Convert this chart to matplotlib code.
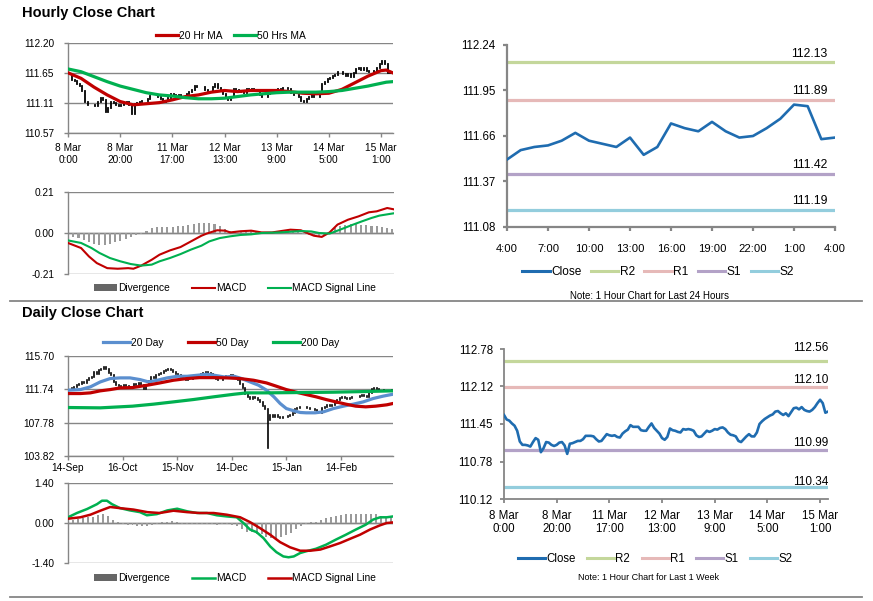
import numpy as np
import matplotlib
matplotlib.use("Agg")
import matplotlib.pyplot as plt
from matplotlib.lines import Line2D
from matplotlib.patches import Patch

# ---------------- data ----------------
# hourly closes, last 1 week (8 Mar 0:00 -> 15 Mar ~4:00)
hourly_close = [
    111.61, 111.53, 111.51, 111.46, 111.42, 111.33, 111.14, 111.08, 111.08, 111.07,
    111.05, 111.13, 111.20, 111.17, 110.95, 111.02, 111.13, 111.12, 111.08, 111.06,
    111.08, 111.12, 111.13, 111.07, 110.92, 111.10, 111.11, 111.13, 111.15, 111.15,
    111.18, 111.24, 111.24, 111.24, 111.23, 111.18, 111.14, 111.15, 111.21, 111.27,
    111.25, 111.24, 111.25, 111.22, 111.21, 111.28, 111.32, 111.35, 111.43, 111.40,
    111.40, 111.40, 111.34, 111.33, 111.33, 111.40, 111.46, 111.38, 111.33, 111.28,
    111.20, 111.17, 111.22, 111.37, 111.34, 111.33, 111.31, 111.30, 111.36, 111.35,
    111.36, 111.35, 111.33, 111.25, 111.22, 111.23, 111.28, 111.33, 111.31, 111.33,
    111.36, 111.35, 111.38, 111.39, 111.36, 111.30, 111.26, 111.25, 111.23, 111.15,
    111.13, 111.18, 111.23, 111.27, 111.23, 111.23, 111.30, 111.45, 111.50, 111.54,
    111.57, 111.60, 111.62, 111.67, 111.68, 111.64, 111.61, 111.64, 111.59, 111.66,
    111.73, 111.74, 111.71, 111.75, 111.70, 111.68, 111.67, 111.70, 111.75, 111.82,
    111.88, 111.82, 111.65, 111.67]
hourly_tick_idx = [0, 20, 40, 60, 80, 100, 120]
hourly_tick_labels = ["8 Mar\n0:00", "8 Mar\n20:00", "11 Mar\n17:00", "12 Mar\n13:00",
                      "13 Mar\n9:00", "14 Mar\n5:00", "15 Mar\n1:00"]

# hourly moving averages
ma_x = [0, 5, 10, 15, 20, 25, 30, 35, 40, 45, 50, 55, 60, 65, 70, 75, 80, 85, 90, 95,
        100, 105, 110, 115, 120, 122, 124.5]
ma20 = [111.66, 111.56, 111.40, 111.26, 111.14, 111.08, 111.10, 111.12, 111.17, 111.23,
        111.26, 111.31, 111.34, 111.32, 111.34, 111.34, 111.34, 111.32, 111.29, 111.28,
        111.29, 111.36, 111.48, 111.60, 111.70, 111.71, 111.66]
ma50 = [111.73, 111.68, 111.59, 111.50, 111.42, 111.36, 111.30, 111.26, 111.24, 111.21,
        111.19, 111.19, 111.20, 111.23, 111.26, 111.28, 111.30, 111.31, 111.31, 111.31,
        111.32, 111.34, 111.38, 111.42, 111.47, 111.49, 111.50]
hourly_price_ticks = [110.57, 111.11, 111.65, 112.20]

# hourly MACD
hmacd_x = [0, 5, 8, 11, 15, 19, 23, 25, 28, 32, 35, 39, 43, 47, 51, 53, 57, 60, 62, 66,
           70, 74, 78, 81, 85, 89, 92, 94, 97, 100, 103, 107, 111, 115, 118, 122, 125]
hmacd = [-0.051, -0.077, -0.120, -0.154, -0.180, -0.183, -0.180, -0.183, -0.167, -0.137,
         -0.111, -0.089, -0.072, -0.043, -0.014, -0.003, 0.014, 0.012, 0.003, 0.009,
         0.012, 0.003, 0.003, 0.009, 0.017, 0.014, -0.003, -0.014, -0.020, 0.003,
         0.043, 0.068, 0.085, 0.106, 0.111, 0.128, 0.120]
hsig_x = [0, 5, 9, 12, 16, 20, 24, 28, 32, 35, 39, 43, 47, 51, 54, 58, 62, 66, 70, 74,
          81, 89, 93, 96, 100, 104, 108, 112, 116, 119, 125]
hsig = [-0.038, -0.051, -0.077, -0.102, -0.128, -0.145, -0.159, -0.167, -0.162, -0.145,
        -0.128, -0.108, -0.085, -0.065, -0.043, -0.026, -0.017, -0.010, -0.007, 0.000,
        0.003, 0.010, 0.008, 0.000, -0.003, 0.017, 0.038, 0.058, 0.077, 0.089, 0.102]
hdiv_x = list(range(0, 125, 2))
hdiv = [-0.012, -0.018, -0.025, -0.035, -0.045, -0.055, -0.062, -0.060, -0.055, -0.048,
        -0.040, -0.030, -0.022, -0.012, -0.005, 0.010, 0.025, 0.030, 0.030, 0.030,
        0.033, 0.035, 0.038, 0.040, 0.045, 0.050, 0.052, 0.050, 0.045, 0.035,
        0.022, 0.012, 0.010, 0.010, 0.010, 0.008, 0.005, 0.004, 0.003, 0.003,
        0.004, 0.006, 0.007, 0.006, 0.004, -0.003, -0.008, -0.012, -0.015, -0.010,
        0.005, 0.025, 0.035, 0.042, 0.045, 0.045, 0.043, 0.040, 0.038, 0.036,
        0.030, 0.025, 0.020]
hmacd_ticks = [-0.21, 0.00, 0.21]

# last 24 hours
h24_close = [111.51, 111.57, 111.59, 111.60, 111.63, 111.68, 111.63, 111.61, 111.59, 111.65,
             111.54, 111.59, 111.74, 111.71, 111.69, 111.75, 111.69, 111.65, 111.66, 111.71,
             111.77, 111.86, 111.85, 111.64, 111.65]
h24_tick_idx = [0, 3, 6, 9, 12, 15, 18, 21, 24]
h24_tick_labels = ["4:00", "7:00", "10:00", "13:00", "16:00", "19:00", "22:00", "1:00", "4:00"]
h24_ticks = [111.08, 111.37, 111.66, 111.95, 112.24]
h24_levels = [112.13, 111.89, 111.42, 111.19]        # R2, R1, S1, S2

# daily closes
daily_close = [
    111.95, 111.80, 112.05, 112.23, 112.40, 112.62, 112.50, 112.90, 113.05, 113.21,
    113.81, 113.60, 114.00, 114.20, 114.45, 114.10, 113.70, 113.41, 112.62, 112.23,
    112.10, 111.95, 112.20, 112.11, 111.90, 112.03, 112.42, 112.30, 112.50, 112.23,
    111.83, 112.23, 112.70, 113.21, 113.10, 113.41, 113.55, 113.69, 113.90, 114.00,
    114.15, 114.00, 113.85, 113.60, 113.40, 113.21, 113.00, 112.82, 112.95, 113.02,
    113.15, 113.29, 113.45, 113.60, 113.70, 113.81, 113.70, 113.60, 113.30, 113.02,
    112.90, 112.82, 113.05, 113.29, 113.35, 113.41, 113.30, 113.13, 112.90, 112.40,
    111.95, 111.16, 110.80, 110.65, 110.85, 110.70, 110.45, 110.25, 109.80, 109.46,
    108.08, 108.68, 108.48, 108.68, 108.40, 108.28, 108.40, 108.48, 108.60, 108.68,
    108.95, 109.46, 109.55, 109.66, 109.60, 109.66, 109.55, 109.46, 109.35, 109.27,
    108.90, 108.87, 109.58, 109.70, 109.86, 109.80, 109.86, 110.15, 110.45, 110.70,
    110.85, 110.75, 110.65, 110.70, 110.77, 110.80, 110.85, 110.95, 111.04, 110.95,
    110.85, 111.30, 111.83, 111.90, 111.83, 111.70, 111.64, 111.55, 111.56, 111.60,
    111.64]
flash_low_idx = 80
flash_low = 104.73
daily_tick_idx = [0, 22, 44, 66, 88, 110]
daily_tick_labels = ["14-Sep", "16-Oct", "15-Nov", "14-Dec", "15-Jan", "14-Feb"]
daily_price_ticks = [103.82, 107.78, 111.74, 115.70]

d20_x = [0, 5, 9, 13, 17, 21, 25, 29, 32.5, 36, 40, 44, 48, 52, 56, 59, 63, 67, 70, 73.4,
         76.8, 80, 83, 85.5, 88, 91, 93.6, 96, 99.6, 103, 107, 111, 115, 119, 123, 127, 131]
d20 = [111.64, 111.71, 112.03, 112.62, 113.02, 113.10, 113.10, 112.90, 112.62, 112.82,
       113.10, 113.29, 113.29, 113.41, 113.53, 113.41, 113.21, 113.29, 113.02, 112.62,
       112.23, 111.64, 110.85, 110.06, 109.46, 109.19, 108.99, 108.95, 108.95, 109.07,
       109.46, 109.74, 109.98, 110.25, 110.65, 110.93, 111.16]
d50_x = [0, 5, 9, 13, 17, 21, 26, 32, 37, 42.5, 48, 53, 58.7, 64, 69.4, 74.8, 80, 84, 88, 92,
         96, 100, 104, 108, 112, 116, 120, 124, 128.5, 131]
d50 = [111.24, 111.24, 111.32, 111.56, 111.71, 111.91, 111.95, 112.23, 112.50, 112.82,
       113.02, 113.13, 113.13, 113.10, 113.02, 112.82, 112.50, 112.11, 111.71, 111.40,
       111.12, 110.85, 110.53, 110.25, 109.98, 109.74, 109.66, 109.74, 109.90, 110.06]
d200_x = [0, 13, 26, 34.5, 42.5, 50.6, 58.7, 67, 72, 80, 93.6, 107, 120, 131]
d200 = [109.58, 109.54, 109.74, 109.98, 110.25, 110.53, 110.85, 111.16, 111.32, 111.32,
        111.36, 111.40, 111.48, 111.56]

# daily MACD
dmacd_x = [0, 3.6, 7.7, 11.7, 13.7, 15.7, 17.7, 21, 25, 29, 31.8, 35.8, 40, 44, 48, 52, 56,
           60, 64, 68, 70.7, 73.4, 76, 78.8, 81.5, 84, 86.8, 88.9, 91, 93.6, 96, 100, 104,
           108, 112, 116, 120, 123, 125.8, 128.5, 131]
dmacd = [0.20, 0.35, 0.49, 0.66, 0.78, 0.78, 0.66, 0.52, 0.44, 0.38, 0.27, 0.31, 0.44, 0.50,
         0.41, 0.35, 0.35, 0.27, 0.23, 0.20, 0.00, -0.23, -0.32, -0.53, -0.82, -1.02, -1.17,
         -1.20, -1.17, -1.05, -0.99, -0.90, -0.76, -0.58, -0.41, -0.23, -0.06, 0.12, 0.20,
         0.20, 0.23]
dsig_x = [0, 5, 9, 13, 17, 21, 26.4, 32, 37, 42.5, 48, 53, 58.7, 64, 69.4, 73.4, 77.4, 81.5,
          85.5, 89.5, 93.6, 97.6, 101.7, 105.6, 109.7, 113.8, 117.7, 121.7, 125.8, 128.5, 131]
dsig = [0.15, 0.20, 0.29, 0.43, 0.56, 0.52, 0.47, 0.38, 0.35, 0.43, 0.38, 0.35, 0.35, 0.29,
        0.20, 0.03, -0.18, -0.41, -0.67, -0.85, -0.97, -0.97, -0.93, -0.82, -0.70, -0.55,
        -0.41, -0.23, -0.08, 0.00, 0.02]
ddiv_x = list(range(0, 131, 2))
ddiv = [0.05, 0.10, 0.15, 0.18, 0.20, 0.22, 0.28, 0.32, 0.25, 0.10,
        0.02, -0.05, -0.08, -0.08, -0.10, -0.12, -0.10, -0.06, -0.02, 0.03,
        0.05, 0.06, 0.03, -0.02, -0.04, -0.03, -0.02, -0.02, -0.03, -0.05,
        -0.06, -0.05, -0.05, -0.08, -0.12, -0.22, -0.30, -0.32, -0.38, -0.40,
        -0.48, -0.52, -0.55, -0.50, -0.42, -0.35, -0.22, -0.12, -0.05, 0.02,
        0.05, 0.12, 0.18, 0.22, 0.25, 0.28, 0.30, 0.30, 0.30, 0.30,
        0.30, 0.32, 0.30, 0.25, 0.22, 0.20]
dmacd_ticks = [-1.40, 0.00, 1.40]

# week levels
wk_ticks = [110.12, 110.78, 111.45, 112.12, 112.78]
wk_levels = [112.56, 112.10, 110.99, 110.34]          # R2, R1, S1, S2
level_names = ["R2", "R1", "S1", "S2"]

# ---------------- style ----------------
plt.rcParams['font.family'] = ['Liberation Sans', 'DejaVu Sans']

GREY = '#868686'
RED = '#C00000'
GREEN = '#00B050'
BLUE = '#1F6CB0'
BLUE20 = '#5B8FCF'
LEVEL_COLORS = ['#C4D79B', '#E6B9B8', '#B3A2C7', '#93CDDD']
DIVC = '#9A9A9A'
DIVL = '#666666'

W, H = 873, 601
fig = plt.figure(figsize=(W / 100, H / 100), dpi=100)


def px_axes(x0, y0, x1, y1):
    return fig.add_axes([x0 / W, 1 - y1 / H, (x1 - x0) / W, (y1 - y0) / H])


def base_style(ax, fs, lw=1.0, xpad=3, ypad=7):
    ax.spines['top'].set_visible(False)
    ax.spines['right'].set_visible(False)
    for s in ('left', 'bottom'):
        ax.spines[s].set_color(GREY)
        ax.spines[s].set_linewidth(lw)
    ax.tick_params(axis='both', colors=GREY, labelcolor='black', labelsize=fs,
                   length=3, width=lw)
    ax.tick_params(axis='x', pad=xpad)
    ax.tick_params(axis='y', pad=ypad)


def legend_at(ax, handles, labels, cx, cy, fs, **kw):
    return ax.legend(handles, labels, loc='center', bbox_to_anchor=(cx / W, 1 - cy / H),
                     bbox_transform=fig.transFigure, ncol=len(handles), frameon=False,
                     prop={'size': fs}, borderpad=0, borderaxespad=0, **kw)


# ---------------- titles & separators ----------------
fig.text(22 / W, 1 - 13 / H, "Hourly Close Chart", fontsize=10.5, fontweight='bold',
         ha='left', va='center')
fig.text(22 / W, 1 - 313 / H, "Daily Close Chart", fontsize=10.5, fontweight='bold',
         ha='left', va='center')
for yy in (300.5, 597):
    fig.add_artist(Line2D([10 / W, 862 / W], [1 - yy / H, 1 - yy / H], color=GREY, lw=1.3))

# ---------------- panel 1: hourly price ----------------
hc = np.array(hourly_close)
hx = np.arange(len(hc)) + 0.5
ho = np.r_[hc[0], hc[:-1]]
ax1 = px_axes(68, 43, 393, 133)
ax1.vlines(hx, np.minimum(ho, hc), np.maximum(ho, hc), color='black', lw=1.3,
           capstyle='projecting', zorder=2)
l20, = ax1.plot(ma_x, ma20, color=RED, lw=2.3, zorder=3)
l50, = ax1.plot(ma_x, ma50, color=GREEN, lw=2.3, zorder=3)
ax1.set_xlim(0, 124.6)
ax1.set_ylim(110.57, 112.20)
ax1.set_yticks(hourly_price_ticks, [f"{v:.2f}" for v in hourly_price_ticks])
ax1.set_xticks(hourly_tick_idx, hourly_tick_labels)
ax1.yaxis.grid(True, color=GREY, lw=1.0)
ax1.set_axisbelow(True)
base_style(ax1, 7.3, xpad=4)
for t in ax1.get_xticklabels():
    t.set_linespacing(1.25)
legend_at(ax1, [l20, l50], ["20 Hr MA", "50 Hrs MA"], 231, 36, 7.4,
          handlelength=2.1, handletextpad=0.1, columnspacing=1.1)

# ---------------- panel 2: hourly MACD ----------------
ax2 = px_axes(68, 192, 394, 274)
ax2.bar(hdiv_x, hdiv, width=0.8, color=DIVC, zorder=2)
ax2.plot(hmacd_x, hmacd, color=RED, lw=1.5, zorder=3)
ax2.plot(hsig_x, hsig, color=GREEN, lw=1.5, zorder=3)
ax2.axhline(0, color=GREY, lw=1.0, zorder=1)
ax2.set_xlim(0, 124.6)
ax2.set_ylim(-0.21, 0.21)
ax2.set_yticks(hmacd_ticks, [f"{v:.2f}" for v in hmacd_ticks])
ax2.set_xticks([])
ax2.yaxis.grid(True, color=GREY, lw=1.0)
ax2.set_axisbelow(True)
base_style(ax2, 7.3)
ax2.spines['bottom'].set_visible(False)
legend_at(ax2, [Patch(facecolor=DIVL), Line2D([], [], color=RED, lw=1.5),
                Line2D([], [], color=GREEN, lw=1.5)],
          ["Divergence", "MACD", "MACD Signal Line"], 235, 288, 7.4,
          handlelength=2.2, handletextpad=0.1, columnspacing=2.2, handleheight=0.6)

# ---------------- panel 3: last 24 hours ----------------
ax3 = px_axes(507, 45, 835, 227)
for lv, c in zip(h24_levels, LEVEL_COLORS):
    ax3.axhline(lv, color=c, lw=2.3, zorder=2)
    ax3.annotate(f"{lv:.2f}", xy=(0.976, lv), xycoords=('axes fraction', 'data'),
                 xytext=(0, 4), textcoords='offset points', ha='right', va='baseline',
                 fontsize=8.8)
ax3.plot(range(len(h24_close)), h24_close, color=BLUE, lw=1.9, zorder=3)
ax3.set_xlim(0, 24)
ax3.set_ylim(111.08, 112.24)
ax3.set_yticks(h24_ticks, [f"{v:.2f}" for v in h24_ticks])
ax3.set_xticks(h24_tick_idx, h24_tick_labels)
base_style(ax3, 8.3, lw=1.6, xpad=9, ypad=5)
ax3.tick_params(axis='x', labelsize=8.1)
legend_at(ax3, [Line2D([], [], color=BLUE, lw=2.2)] + [Line2D([], [], color=c, lw=2.2) for c in LEVEL_COLORS],
          ["Close"] + level_names, 658, 272, 8.6,
          handlelength=2.3, handletextpad=0.1, columnspacing=0.8)
fig.text(649 / W, 1 - 296 / H, "Note: 1 Hour Chart for Last 24 Hours", ha='center',
         va='center', fontsize=7)

# ---------------- panel 4: daily price ----------------
dc = np.array(daily_close)
dx = np.arange(len(dc)) + 0.5
do = np.r_[dc[0], dc[:-1]]
dlo = np.minimum(do, dc)
dlo[flash_low_idx] = flash_low
ax4 = px_axes(68, 356, 393, 456)
ax4.vlines(dx, dlo, np.maximum(do, dc), color='black', lw=1.2, capstyle='projecting',
           zorder=2)
a20, = ax4.plot(d20_x, d20, color=BLUE20, lw=2.3, zorder=3)
a50, = ax4.plot(d50_x, d50, color=RED, lw=2.3, zorder=3)
a200, = ax4.plot(d200_x, d200, color=GREEN, lw=2.3, zorder=3)
ax4.set_xlim(0, 131)
ax4.set_ylim(103.82, 115.70)
ax4.set_yticks(daily_price_ticks, [f"{v:.2f}" for v in daily_price_ticks])
ax4.set_xticks(daily_tick_idx, daily_tick_labels)
ax4.yaxis.grid(True, color=GREY, lw=1.0)
ax4.set_axisbelow(True)
base_style(ax4, 7.3, xpad=2)
legend_at(ax4, [a20, a50, a200], ["20 Day", "50 Day", "200 Day"], 221, 343, 7.4,
          handlelength=2.6, handletextpad=0.1, columnspacing=2.4)

# ---------------- panel 5: daily MACD ----------------
ax5 = px_axes(68, 483, 393, 563)
ax5.bar(ddiv_x, ddiv, width=0.8, color=DIVC, zorder=2)
m1, = ax5.plot(dmacd_x, dmacd, color=GREEN, lw=1.8, zorder=3)
m2, = ax5.plot(dsig_x, dsig, color=RED, lw=1.8, zorder=3)
ax5.axhline(0, color=GREY, lw=1.0, zorder=1)
ax5.set_xlim(0, 131)
ax5.set_ylim(-1.40, 1.40)
ax5.set_yticks(dmacd_ticks, [f"{v:.2f}" for v in dmacd_ticks])
ax5.set_xticks([])
ax5.yaxis.grid(True, color=GREY, lw=1.0)
ax5.set_axisbelow(True)
base_style(ax5, 7.3)
ax5.spines['bottom'].set_visible(False)
legend_at(ax5, [Patch(facecolor=DIVL), Line2D([], [], color=GREEN, lw=1.8),
                Line2D([], [], color=RED, lw=1.8)],
          ["Divergence", "MACD", "MACD Signal Line"], 235, 578, 7.4,
          handlelength=2.2, handletextpad=0.1, columnspacing=2.2, handleheight=0.6)

# ---------------- panel 6: last 1 week ----------------
ax6 = px_axes(504, 349, 828, 499)
offs = [7.5, 3, 3, 0.8]
for lv, c, o in zip(wk_levels, LEVEL_COLORS, offs):
    ax6.axhline(lv, color=c, lw=2.3, zorder=2)
    ax6.annotate(f"{lv:.2f}", xy=(1.0, lv), xycoords=('axes fraction', 'data'),
                 xytext=(0, o), textcoords='offset points', ha='right', va='baseline',
                 fontsize=8.5)
ax6.plot(range(len(hc)), hc, color=BLUE, lw=1.9, zorder=3)
ax6.set_xlim(0, 123)
ax6.set_ylim(110.12, 112.78)
ax6.set_yticks(wk_ticks, [f"{v:.2f}" for v in wk_ticks])
ax6.set_xticks(hourly_tick_idx, hourly_tick_labels)
base_style(ax6, 8.3, lw=1.3, xpad=5, ypad=5)
for t in ax6.get_xticklabels():
    t.set_linespacing(1.15)
legend_at(ax6, [Line2D([], [], color=BLUE, lw=2.2)] + [Line2D([], [], color=c, lw=2.2) for c in LEVEL_COLORS],
          ["Close"] + level_names, 655, 559, 8.3,
          handlelength=2.35, handletextpad=0.1, columnspacing=1.0)
fig.text(648 / W, 1 - 578 / H, "Note: 1 Hour Chart for Last 1 Week", ha='center',
         va='center', fontsize=6.5)

fig.savefig("out.png", dpi=100)
